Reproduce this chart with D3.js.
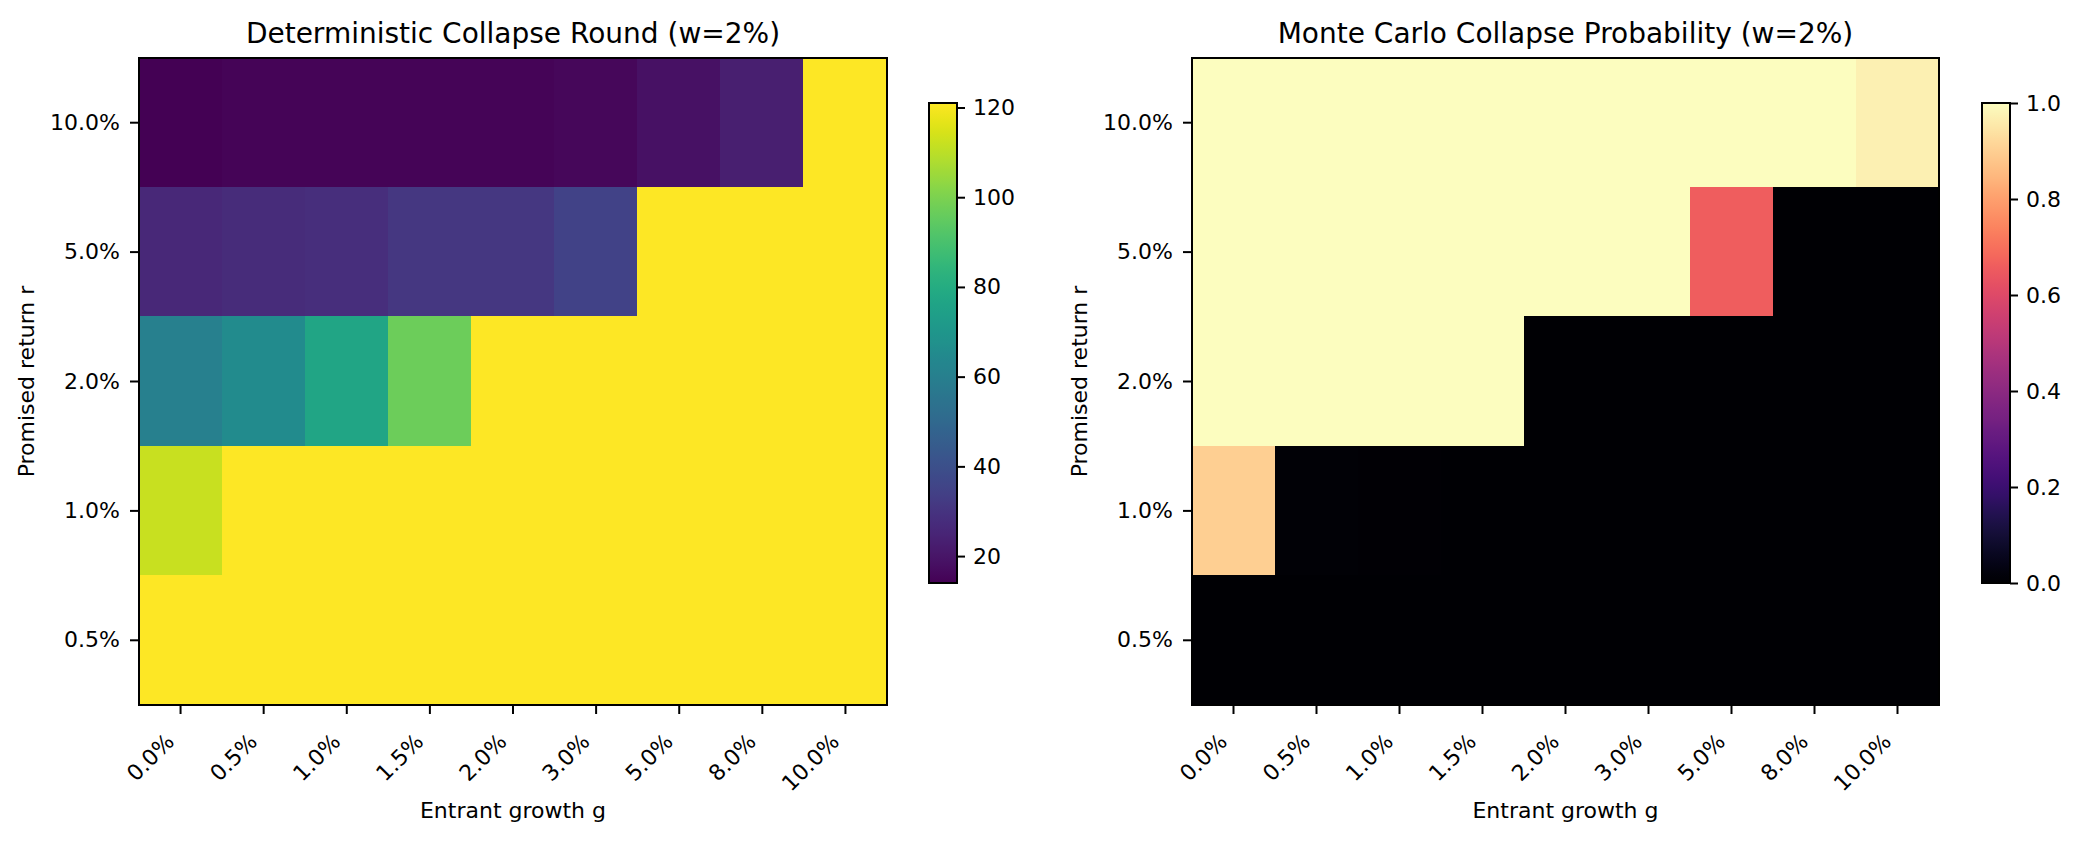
<!DOCTYPE html>
<html>
<head>
<meta charset="utf-8">
<script src="https://cdn.jsdelivr.net/npm/d3@7"></script>
<style>
    html, body { margin: 0; padding: 0; background: #ffffff; }
    #chart { width: 2081px; height: 841px; }
</style>
</head>
<body>
<div id="chart"></div>
<script>
// Two heatmaps: deterministic collapse round and Monte Carlo collapse probability.
// rows = promised return r (top to bottom), columns = entrant growth g

var growthLabels = ["0.0%", "0.5%", "1.0%", "1.5%", "2.0%", "3.0%", "5.0%", "8.0%", "10.0%"];
var returnLabels = ["10.0%", "5.0%", "2.0%", "1.0%", "0.5%"];

// collapse round (121 = no collapse within horizon)
var collapseRound = [
    [14, 15, 15, 15, 15, 16, 19, 23, 121],
    [26, 27, 28, 31, 31, 35, 121, 121, 121],
    [60, 65, 77, 97, 121, 121, 121, 121, 121],
    [112, 121, 121, 121, 121, 121, 121, 121, 121],
    [121, 121, 121, 121, 121, 121, 121, 121, 121]
];

// Monte Carlo collapse probability
var collapseProb = [
    [1, 1, 1, 1, 1, 1, 1, 1, 0.97],
    [1, 1, 1, 1, 1, 1, 0.66, 0, 0],
    [1, 1, 1, 1, 0, 0, 0, 0, 0],
    [0.9, 0.01, 0.005, 0, 0, 0, 0, 0, 0],
    [0, 0, 0, 0, 0, 0, 0, 0, 0]
];

var roundTicks = [20, 40, 60, 80, 100, 120];
var probTicks = [0, 0.2, 0.4, 0.6, 0.8, 1.0];

(function() {

    var width = 2081;
    var height = 841;
    var fontFamily = "'DejaVu Sans', sans-serif";

    var svg = d3.select("#chart")
        .append("svg")
        .attr("width", width)
        .attr("height", height);

    svg.append("rect")
        .attr("width", width)
        .attr("height", height)
        .attr("fill", "#ffffff");

    drawHeatmap({
        id: "round",
        left: 139, top: 58, w: 748, h: 647,
        values: collapseRound,
        interp: d3.interpolateViridis,
        vmin: 14, vmax: 121,
        title: "Deterministic Collapse Round (w=2%)",
        ylabelX: 34,
        cbX: 929,
        cbTicks: roundTicks,
        cbFormat: d3.format("d")
    });

    drawHeatmap({
        id: "prob",
        left: 1192, top: 58, w: 747, h: 647,
        values: collapseProb,
        interp: d3.interpolateMagma,
        vmin: 0, vmax: 1,
        title: "Monte Carlo Collapse Probability (w=2%)",
        ylabelX: 1087,
        cbX: 1982,
        cbTicks: probTicks,
        cbFormat: d3.format(".1f")
    });

    function drawHeatmap(o) {

        var g = svg.append("g");

        var xScale = d3.scaleBand()
            .domain(growthLabels)
            .range([o.left, o.left + o.w])
            .padding(0);

        var yScale = d3.scaleBand()
            .domain(returnLabels)
            .range([o.top, o.top + o.h])
            .padding(0);

        var color = d3.scaleSequential(o.interp)
            .domain([o.vmin, o.vmax]);

        // flatten cells
        var cells = [];
        o.values.forEach(function(row, i) {
            row.forEach(function(v, j) {
                cells.push({ r: returnLabels[i], g: growthLabels[j], v: v });
            });
        });

        g.selectAll(".cell")
            .data(cells)
            .enter()
            .append("rect")
            .attr("class", "cell")
            .attr("x", function(d) { return Math.floor(xScale(d.g)); })
            .attr("y", function(d) { return Math.floor(yScale(d.r)); })
            .attr("width", Math.ceil(xScale.bandwidth()) + 1)
            .attr("height", Math.ceil(yScale.bandwidth()) + 1)
            .attr("shape-rendering", "crispEdges")
            .attr("fill", function(d) { return color(d.v); });

        // frame
        g.append("rect")
            .attr("x", o.left)
            .attr("y", o.top)
            .attr("width", o.w)
            .attr("height", o.h)
            .attr("fill", "none")
            .attr("stroke", "#000000")
            .attr("stroke-width", 2);

        // x axis
        var xAxis = g.append("g")
            .attr("transform", "translate(0," + (o.top + o.h) + ")")
            .call(d3.axisBottom(xScale).tickSize(9).tickSizeOuter(0));

        xAxis.select(".domain").remove();
        xAxis.selectAll(".tick line").attr("stroke", "#000").attr("stroke-width", 2);
        xAxis.selectAll(".tick text")
            .attr("x", 0)
            .attr("y", 0)
            .attr("dy", null)
            .attr("transform", "translate(-5,38) rotate(-45)")
            .style("text-anchor", "end")
            .attr("fill", "#000")
            .attr("font-family", fontFamily)
            .attr("font-size", "22px");

        // y axis
        var yAxis = g.append("g")
            .attr("transform", "translate(" + o.left + ",0)")
            .call(d3.axisLeft(yScale).tickSize(9).tickPadding(10).tickSizeOuter(0));

        yAxis.select(".domain").remove();
        yAxis.selectAll(".tick line").attr("stroke", "#000").attr("stroke-width", 2);
        yAxis.selectAll(".tick text")
            .attr("fill", "#000")
            .attr("font-family", fontFamily)
            .attr("font-size", "22px");

        // title
        g.append("text")
            .attr("x", o.left + o.w / 2)
            .attr("y", 43)
            .attr("text-anchor", "middle")
            .attr("font-family", fontFamily)
            .attr("font-size", "28px")
            .attr("fill", "#000")
            .text(o.title);

        // axis labels
        g.append("text")
            .attr("x", o.left + o.w / 2)
            .attr("y", 818)
            .attr("text-anchor", "middle")
            .attr("font-family", fontFamily)
            .attr("font-size", "22px")
            .attr("fill", "#000")
            .text("Entrant growth g");

        g.append("text")
            .attr("transform", "translate(" + o.ylabelX + "," + (o.top + o.h / 2) + ") rotate(-90)")
            .attr("text-anchor", "middle")
            .attr("font-family", fontFamily)
            .attr("font-size", "22px")
            .attr("fill", "#000")
            .text("Promised return r");

        // colorbar
        var cbTop = 103;
        var cbBottom = 583;
        var cbW = 28;

        var gradId = "grad-" + o.id;
        var grad = svg.append("defs")
            .append("linearGradient")
            .attr("id", gradId)
            .attr("x1", "0%").attr("y1", "100%")
            .attr("x2", "0%").attr("y2", "0%");

        grad.selectAll("stop")
            .data(d3.range(0, 1.0001, 0.02))
            .enter()
            .append("stop")
            .attr("offset", function(d) { return (d * 100) + "%"; })
            .attr("stop-color", function(d) { return o.interp(d); });

        g.append("rect")
            .attr("x", o.cbX)
            .attr("y", cbTop)
            .attr("width", cbW)
            .attr("height", cbBottom - cbTop)
            .attr("fill", "url(#" + gradId + ")")
            .attr("stroke", "#000")
            .attr("stroke-width", 2);

        var cbScale = d3.scaleLinear()
            .domain([o.vmin, o.vmax])
            .range([cbBottom, cbTop]);

        var cbAxis = g.append("g")
            .attr("transform", "translate(" + (o.cbX + cbW) + ",0)")
            .call(d3.axisRight(cbScale)
                .tickValues(o.cbTicks)
                .tickFormat(o.cbFormat)
                .tickSize(8)
                .tickPadding(8)
                .tickSizeOuter(0));

        cbAxis.select(".domain").remove();
        cbAxis.selectAll(".tick line").attr("stroke", "#000").attr("stroke-width", 2);
        cbAxis.selectAll(".tick text")
            .attr("fill", "#000")
            .attr("font-family", fontFamily)
            .attr("font-size", "22px");
    }

})();
</script>
</body>
</html>
